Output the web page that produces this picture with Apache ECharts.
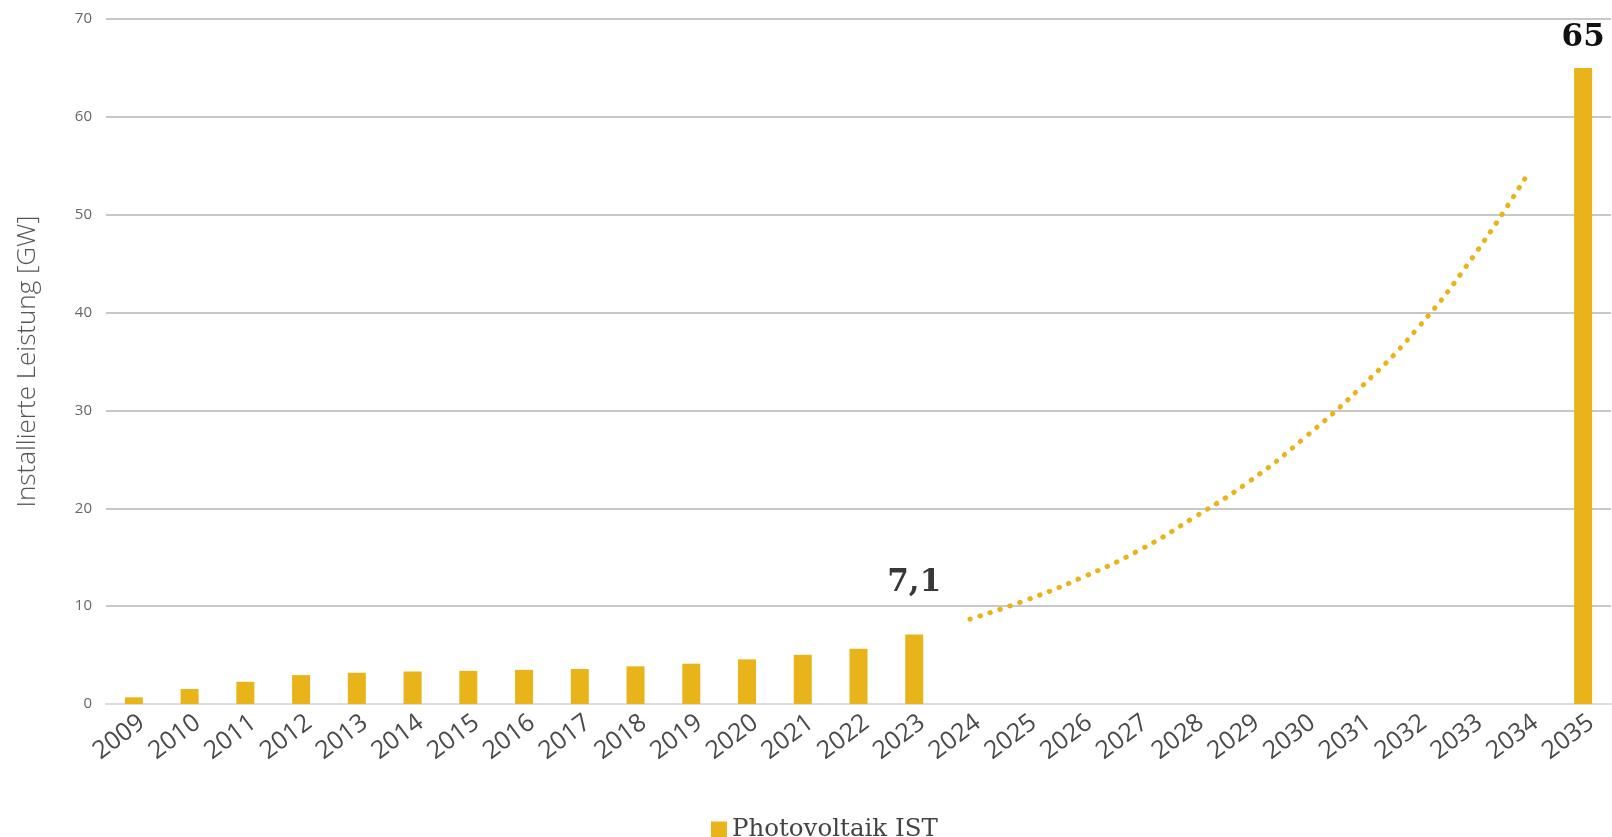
<!DOCTYPE html>
<html>
<head>
<meta charset="utf-8">
<script src="https://cdn.jsdelivr.net/npm/echarts@6/dist/echarts.min.js"></script>
<style>html,body{margin:0;padding:0;background:#fff;}#c{width:1612px;height:837px;}</style>
</head>
<body>
<div id="c"></div>
<script>
const years = ['2009','2010','2011','2012','2013','2014','2015','2016','2017','2018','2019','2020','2021','2022','2023','2024','2025','2026','2027','2028','2029','2030','2031','2032','2033','2034','2035'];
const istYears = ['2009','2010','2011','2012','2013','2014','2015','2016','2017','2018','2019','2020','2021','2022','2023'];
const istValues = [0.68, 1.53, 2.27, 2.95, 3.19, 3.32, 3.39, 3.49, 3.58, 3.85, 4.12, 4.56, 5.03, 5.64, 7.1];
const zielYear = '2035';
const zielValue = 65;
const trendYears = ['2024','2025','2026','2027','2028','2029','2030','2031','2032','2033','2034'];
const trendValues = [8.67, 10.6, 12.9, 15.6, 19.0, 22.7, 27.2, 32.3, 38.2, 45.5, 54.1];
const yTicks = [0, 10, 20, 30, 40, 50, 60, 70];

const gold = '#E8B41A';

const barData = years.map(y => {
  const i = istYears.indexOf(y);
  if (i >= 0) {
    const v = istValues[i];
    if (y === '2023') {
      return { value: v, label: { show: true, formatter: '7,1', distance: 36, color: '#383838' } };
    }
    return v;
  }
  if (y === zielYear) {
    return { value: zielValue, label: { show: true, formatter: '65', distance: 14, color: '#111' } };
  }
  return null;
});
const lineData = years.map(y => {
  const i = trendYears.indexOf(y);
  return i >= 0 ? trendValues[i] : null;
});

const chart = echarts.init(document.getElementById('c'));
chart.setOption({
  animation: false,
  grid: { left: 106, right: 1, top: 19, bottom: 133, containLabel: false, outerBoundsMode: 'none' },
  legend: {
    top: 812,
    left: 706,
    data: ['Photovoltaik IST'],
    icon: 'rect',
    itemWidth: 16,
    itemHeight: 16,
    itemGap: 8,
    textStyle: { fontFamily: 'DejaVu Serif', fontSize: 24.5, color: '#444' }
  },
  xAxis: {
    type: 'category',
    data: years,
    axisTick: { show: false },
    axisLine: { show: true, lineStyle: { color: '#dcdcdc', width: 2 } },
    axisLabel: {
      rotate: 37,
      interval: 0,
      margin: 22,
      padding: [0, -10, 0, 0],
      fontFamily: 'Open Sans',
      fontSize: 25,
      color: '#4a4a4a'
    }
  },
  yAxis: {
    type: 'value',
    min: 0,
    max: 70,
    interval: 10,
    name: 'Installierte Leistung [GW]',
    nameLocation: 'middle',
    nameGap: 65,
    nameTextStyle: { fontFamily: 'Open Sans', fontWeight: 300, fontSize: 26, color: '#555' },
    axisLine: { show: false },
    axisTick: { show: false },
    axisLabel: { margin: 14, fontFamily: 'Open Sans', fontSize: 15, color: '#666',
      formatter: v => yTicks.includes(v) ? String(v) : '' },
    splitLine: { lineStyle: { color: '#c8c8c8', width: 2 } }
  },
  series: [
    {
      name: 'Photovoltaik IST',
      type: 'bar',
      data: barData,
      barWidth: 18,
      itemStyle: { color: gold },
      label: {
        show: false,
        position: 'top',
        fontFamily: 'DejaVu Serif',
        fontWeight: 'bold',
        fontSize: 31
      }
    },
    {
      name: 'Trend',
      type: 'line',
      data: lineData,
      smooth: true,
      symbol: 'none',
      connectNulls: false,
      lineStyle: { color: gold, width: 5, type: [0.5, 10], cap: 'round' }
    }
  ]
});
</script>
</body>
</html>
